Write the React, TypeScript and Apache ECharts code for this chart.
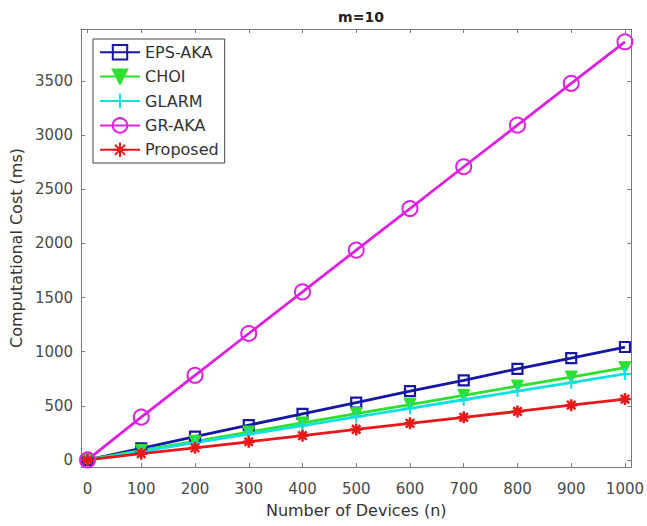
import React, { useEffect, useRef } from "react";
import * as echarts from "echarts";

const devices = [0, 100, 200, 300, 400, 500, 600, 700, 800, 900, 1000];
const epsAka = [0, 108, 215, 322, 426, 530, 635, 735, 842, 940, 1043];
const choi = [0, 88, 172, 258, 342, 428, 512, 596, 682, 766, 852];
const glarm = [0, 80, 160, 238, 318, 398, 476, 556, 636, 714, 795];
const grAka = [0, 395, 782, 1168, 1552, 1938, 2322, 2708, 3092, 3478, 3862];
const proposed = [0, 58, 112, 168, 224, 282, 338, 394, 448, 506, 562];

const xTicks = [0, 100, 200, 300, 400, 500, 600, 700, 800, 900, 1000];
const yTicks = [0, 500, 1000, 1500, 2000, 2500, 3000, 3500];

const plusPath = "path://M5,0L5,10M0,5L10,5";
const starPath = "path://M0,5L10,5M5,0L5,10M1.5,1.5L8.5,8.5M1.5,8.5L8.5,1.5";

export default function App() {
  const ref = useRef<HTMLDivElement>(null);
  useEffect(() => {
    if (!ref.current) return;
    const chart = echarts.init(ref.current, undefined, { renderer: "svg" });
    const pts = (arr: number[]) => devices.map((d, i) => [d, arr[i]]);
    const font = "DejaVu Sans, Arial, sans-serif";
    const axisColor = "#7a7a7a";
    const labelColor = "#4a4a4a";
    const mk = (
      name: string,
      arr: number[],
      color: string,
      symbol: string,
      size: number,
      extra: any = {}
    ) => ({
      name,
      type: "line",
      data: pts(arr),
      symbol,
      symbolSize: size,
      showAllSymbol: true,
      lineStyle: { color, width: 2.8 },
      itemStyle: { color: "#fff", borderColor: color, borderWidth: 2 },
      ...extra,
    });
    const fmt = (v: number) => String(Math.round(v));
    chart.setOption({
      animation: false,
      backgroundColor: "#fff",
      title: {
        text: "m=10",
        left: 356,
        textAlign: "center",
        top: 5,
        textStyle: { fontFamily: font, fontSize: 14, fontWeight: "bold", color: "#222" },
      },
      grid: { left: 78, top: 29, right: 13, bottom: 59, show: false },
      legend: {
        orient: "vertical",
        left: 93,
        top: 39,
        padding: [5, 6, 5, 6],
        itemWidth: 40,
        itemHeight: 18,
        itemGap: 8,
        backgroundColor: "#fff",
        borderColor: "#444",
        borderWidth: 1,
        borderRadius: 0,
        textStyle: { fontFamily: font, fontSize: 16, color: "#333" },
        data: ["EPS-AKA", "CHOI", "GLARM", "GR-AKA", "Proposed"],
      },
      xAxis: [
        {
          type: "value",
          min: -12,
          max: 1012,
          name: "Number of Devices (n)",
          nameLocation: "middle",
          nameGap: 35,
          nameTextStyle: { fontFamily: font, fontSize: 16, color: "#333" },
          axisLine: { show: true, onZero: false, lineStyle: { color: axisColor } },
          axisTick: { show: true, inside: true, length: 4, customValues: xTicks, lineStyle: { color: axisColor } },
          axisLabel: { customValues: xTicks, formatter: fmt, fontFamily: font, fontSize: 15, color: labelColor, margin: 14 },
          splitLine: { show: false },
        },
        {
          type: "value",
          position: "top",
          min: -12,
          max: 1012,
          axisLine: { show: true, onZero: false, lineStyle: { color: axisColor } },
          axisTick: { show: true, inside: true, length: 4, customValues: xTicks, lineStyle: { color: axisColor } },
          axisLabel: { show: false },
          splitLine: { show: false },
        },
      ],
      yAxis: [
        {
          type: "value",
          min: -65,
          max: 3980,
          name: "Computational Cost (ms)",
          nameLocation: "middle",
          nameGap: 56,
          nameTextStyle: { fontFamily: font, fontSize: 16, color: "#333" },
          axisLine: { show: true, onZero: false, lineStyle: { color: axisColor } },
          axisTick: { show: true, inside: true, length: 4, customValues: yTicks, lineStyle: { color: axisColor } },
          axisLabel: { customValues: yTicks, formatter: fmt, fontFamily: font, fontSize: 15, color: labelColor, margin: 8 },
          splitLine: { show: false },
        },
        {
          type: "value",
          position: "right",
          min: -65,
          max: 3980,
          axisLine: { show: true, onZero: false, lineStyle: { color: axisColor } },
          axisTick: { show: true, inside: true, length: 4, customValues: yTicks, lineStyle: { color: axisColor } },
          axisLabel: { show: false },
          splitLine: { show: false },
        },
      ],
      series: [
        mk("EPS-AKA", epsAka, "#1717a6", "rect", 10, {
          itemStyle: { color: "rgba(255,255,255,0)", borderColor: "#1717a6", borderWidth: 2.2 },
        }),
        mk("CHOI", choi, "#2ee02e", "triangle", 12, {
          symbolRotate: 180,
          itemStyle: { color: "#2ee02e", borderColor: "#2ee02e", borderWidth: 1 },
        }),
        mk("GLARM", glarm, "#10e0e0", plusPath, 12, {
          itemStyle: { color: "#10e0e0", borderColor: "#10e0e0", borderWidth: 2 },
        }),
        mk("GR-AKA", grAka, "#e020e0", "circle", 15, {
          itemStyle: { color: "rgba(255,255,255,0)", borderColor: "#e020e0", borderWidth: 2 },
        }),
        mk("Proposed", proposed, "#e81818", starPath, 12, {
          itemStyle: { color: "#e81818", borderColor: "#e81818", borderWidth: 2.5 },
        }),
      ],
    });
    return () => chart.dispose();
  }, []);
  return (
    <div
      ref={ref}
      style={{ position: "fixed", left: 0, top: 0, width: 647, height: 526, background: "#fff" }}
    />
  );
}
